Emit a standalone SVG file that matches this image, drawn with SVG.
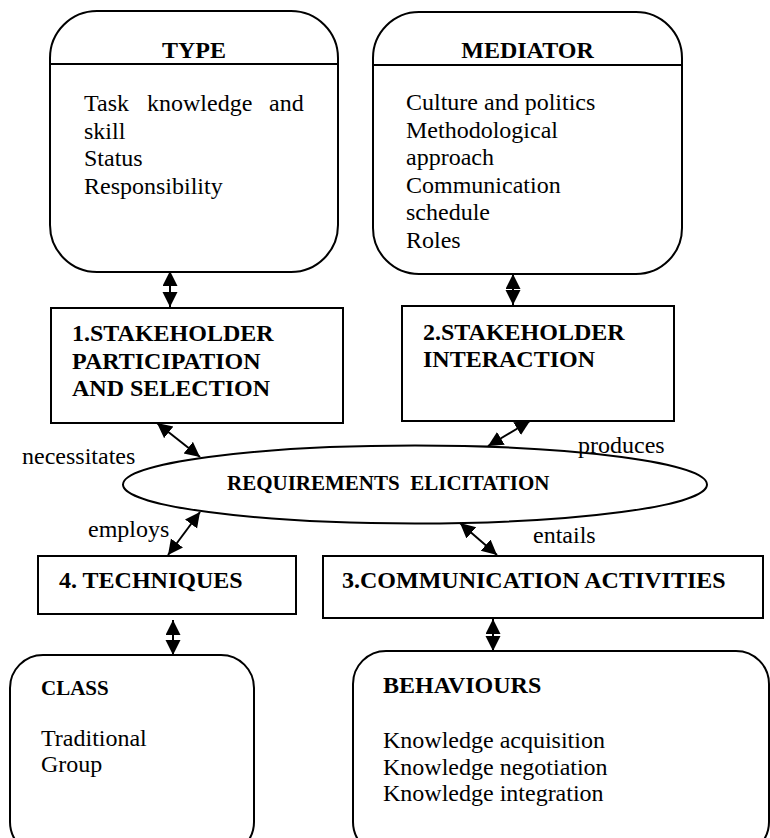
<svg xmlns="http://www.w3.org/2000/svg" width="770" height="838" viewBox="0 0 770 838">
<style>
text{font-family:"Liberation Serif","Times New Roman",serif;font-size:24px;fill:#000}
.b{font-weight:bold}
.shape{fill:#fff;stroke:#000;stroke-width:2}
.div{stroke:#000;stroke-width:2}
.conn{stroke:#000;stroke-width:2;fill:none;marker-start:url(#ah);marker-end:url(#ah)}
</style>
<defs>
<marker id="ah" markerUnits="userSpaceOnUse" markerWidth="16" markerHeight="16" refX="15" refY="7.5" orient="auto-start-reverse" viewBox="0 0 16 16">
<path d="M0,0 L15,7.5 L0,15 z" fill="#000"/>
</marker>
</defs>
<rect width="770" height="838" fill="#fff"/>

<g id="type">
<rect class="shape" x="50" y="11" width="288" height="261" rx="47" ry="47"/>
<line class="div" x1="50" y1="64" x2="338" y2="64"/>
<text class="b" x="194" y="58" text-anchor="middle">TYPE</text>
<text x="84" y="111">Task</text>
<text x="147" y="111">knowledge</text>
<text x="269" y="111">and</text>
<text x="84" y="138.6">skill</text>
<text x="84" y="166.2">Status</text>
<text x="84" y="193.8">Responsibility</text>
</g>

<g id="mediator">
<rect class="shape" x="373" y="12" width="309" height="262" rx="46" ry="46"/>
<line class="div" x1="373" y1="65" x2="682" y2="65"/>
<text class="b" x="527.5" y="58" text-anchor="middle">MEDIATOR</text>
<text x="406" y="110">Culture and politics</text>
<text x="406" y="137.6">Methodological</text>
<text x="406" y="165.2">approach</text>
<text x="406" y="192.8">Communication</text>
<text x="406" y="220.4">schedule</text>
<text x="406" y="248">Roles</text>
</g>

<g id="participation">
<rect class="shape" x="51" y="308" width="292" height="115"/>
<text class="b" x="72" y="341">1.STAKEHOLDER</text>
<text class="b" x="72" y="368.5">PARTICIPATION</text>
<text class="b" x="72" y="396">AND SELECTION</text>
</g>

<g id="interaction">
<rect class="shape" x="402" y="306" width="272" height="115"/>
<text class="b" x="423" y="340">2.STAKEHOLDER</text>
<text class="b" x="423" y="367">INTERACTION</text>
</g>

<g id="elicitation">
<ellipse class="shape" cx="415" cy="484.5" rx="292" ry="39"/>
<text class="b" x="227" y="490" style="font-size:21px;white-space:pre" xml:space="preserve">REQUIREMENTS  ELICITATION</text>
</g>

<g id="techniques">
<rect class="shape" x="38" y="556" width="258" height="58"/>
<text class="b" x="59" y="588">4. TECHNIQUES</text>
</g>

<g id="communication">
<rect class="shape" x="323" y="556" width="440" height="62"/>
<text class="b" x="342" y="588">3.COMMUNICATION ACTIVITIES</text>
</g>

<g id="class">
<rect class="shape" x="10" y="655" width="244" height="200" rx="33" ry="33"/>
<text class="b" x="41" y="695" style="font-size:21px">CLASS</text>
<text x="41" y="746">Traditional</text>
<text x="41" y="772">Group</text>
</g>

<g id="behaviours">
<rect class="shape" x="353" y="651" width="416" height="204" rx="33" ry="33"/>
<text class="b" x="383" y="693">BEHAVIOURS</text>
<text x="383" y="748">Knowledge acquisition</text>
<text x="383" y="774.5">Knowledge negotiation</text>
<text x="383" y="801">Knowledge integration</text>
</g>

<g id="connectors">
<line class="conn" x1="170" y1="271" x2="170" y2="307"/>
<line class="conn" x1="513" y1="274" x2="513" y2="305"/>
<line class="conn" x1="157" y1="423" x2="200" y2="457"/>
<line class="conn" x1="530" y1="421" x2="488" y2="446"/>
<line class="conn" x1="200" y1="512" x2="168" y2="555"/>
<line class="conn" x1="460" y1="523" x2="497" y2="555"/>
<line class="conn" x1="173" y1="620" x2="173" y2="655"/>
<line class="conn" x1="493" y1="619" x2="493" y2="651"/>
<text x="22" y="464">necessitates</text>
<text x="578" y="453">produces</text>
<text x="88" y="537">employs</text>
<text x="533" y="543">entails</text>
</g>
</svg>
